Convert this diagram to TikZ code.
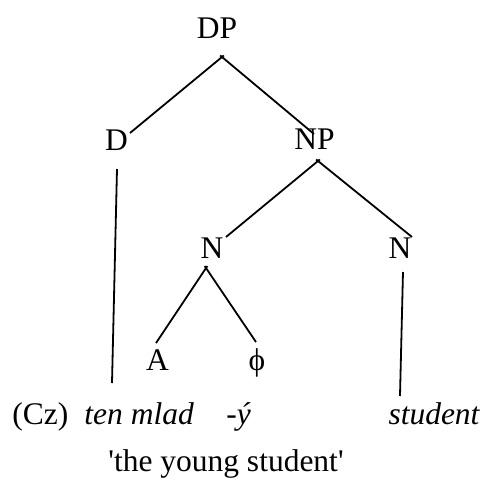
\documentclass[tikz,border=0pt]{standalone}
\usepackage{fontspec}
\setmainfont{Liberation Serif}
\begin{document}
\begin{tikzpicture}[x=0.5pt,y=-0.5pt,
  lbl/.style={anchor=base,inner sep=0pt,font=\fontsize{15.75}{18}\selectfont},
  lblw/.style={lbl,anchor=base west},
  edge/.style={line width=0.9pt,shorten <=-1.2pt}]
\useasboundingbox (0,0) rectangle (484,484);
% labels
\node[lbl] (DP) at (217,38) {DP};
\node[lbl] (D) at (116.5,150) {D};
\node[lbl] (NP) at (314.5,149) {NP};
\node[lbl] (N1) at (212,258) {N};
\node[lbl] (N2) at (400,258) {N};
\node[lbl] (A) at (157.5,370) {A};
\node[lbl] (phi) at (257,370) {ϕ};
\node[lblw] (cz) at (12,424) {(Cz)};
\node[lblw] (ten) at (84,424) {\itshape ten mlad};
\node[lblw] (suf) at (226,424) {\itshape -ý};
\node[lbl] (stu) at (434,424) {\itshape student};
\node[lbl] (gloss) at (226,471) {\textquotesingle the young student\textquotesingle};
% connector end points
\coordinate (dpB) at (222,57);
\coordinate (dT) at (130,133);
\coordinate (npT) at (314,134);
\coordinate (dB) at (117,169);
\coordinate (tenT) at (112,383);
\coordinate (npB) at (318,161);
\coordinate (n1T) at (226,237);
\coordinate (n2T) at (412,237);
\coordinate (n1B) at (206,268);
\coordinate (aT) at (156,343);
\coordinate (phiT) at (256,342);
\coordinate (n2B) at (403,272);
\coordinate (stuT) at (400,396);
% connectors
\draw[edge] (dpB) -- (dT);
\draw[edge] (dpB) -- (npT);
\draw[edge,shorten <=0pt] (dB) -- (tenT);
\draw[edge] (npB) -- (n1T);
\draw[edge] (npB) -- (n2T);
\draw[edge] (n1B) -- (aT);
\draw[edge] (n1B) -- (phiT);
\draw[edge,shorten <=0pt] (n2B) -- (stuT);
\end{tikzpicture}
\end{document}
